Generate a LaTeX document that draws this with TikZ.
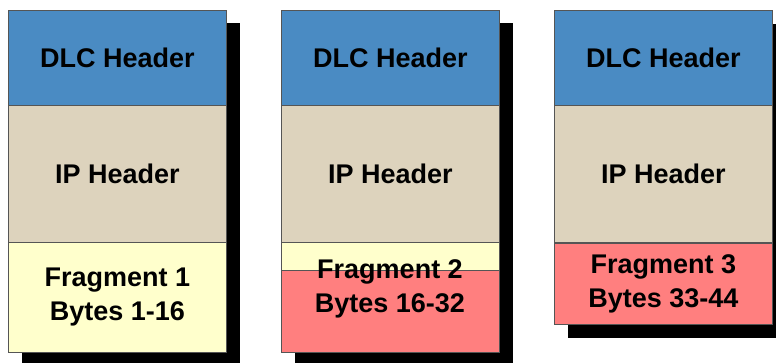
\documentclass[tikz,border=0pt]{standalone}
\usepackage{fontspec}
\setmainfont{Liberation Sans}
\definecolor{dlcblue}{HTML}{4A8BC3}
\definecolor{iptan}{HTML}{DDD3BD}
\definecolor{fragyellow}{HTML}{FFFFCC}
\definecolor{fragred}{HTML}{FF7F7F}
\definecolor{edgegrey}{HTML}{555555}
\tikzset{
  cell/.style={draw=edgegrey, line width=0.8pt, rectangle, inner sep=0pt, anchor=north west,
    minimum width=218pt, font=\fontsize{27}{34}\selectfont\bfseries, align=center},
  dlc/.style={cell, fill=dlcblue, minimum height=95pt},
  iphdr/.style={cell, fill=iptan, minimum height=137pt},
  shadowbox/.style={fill=black, draw=none},
  lbl/.style={font=\fontsize{27}{34}\selectfont\bfseries, align=center, inner sep=0pt}
}
\begin{document}
\begin{tikzpicture}[x=1pt, y=-1pt]
\useasboundingbox (0,0) rectangle (776,362);
\clip (0,0) rectangle (776,362);
% shadows
\path[shadowbox] (22,23) rectangle (240,370);
\path[shadowbox] (295,23) rectangle (513,370);
\path[shadowbox] (568,24) rectangle (786,338);
% column 1
\node[dlc] (d1) at (8,10) {DLC Header};
\node[iphdr] (i1) at (8,105) {IP Header};
\node[cell, fill=fragyellow, minimum height=110pt] (f1) at (8,242) {Fragment 1\\Bytes 1-16};
% column 2
\node[dlc] (d2) at (281,10) {DLC Header};
\node[iphdr] (i2) at (281,105) {IP Header};
\node[cell, fill=fragyellow, minimum height=110pt] (y2) at (281,242) {};
\node[cell, fill=fragred, minimum height=82pt] (r2) at (281,270) {};
\node[lbl] (f2) at (390,289) {Fragment 2\\Bytes 16-32};
% column 3
\node[dlc] (d3) at (554,10) {DLC Header};
\node[iphdr] (i3) at (554,105) {IP Header};
\node[cell, fill=fragred, minimum height=81pt] (f3) at (554,243) {Fragment 3\\Bytes 33-44};
\end{tikzpicture}
\end{document}
